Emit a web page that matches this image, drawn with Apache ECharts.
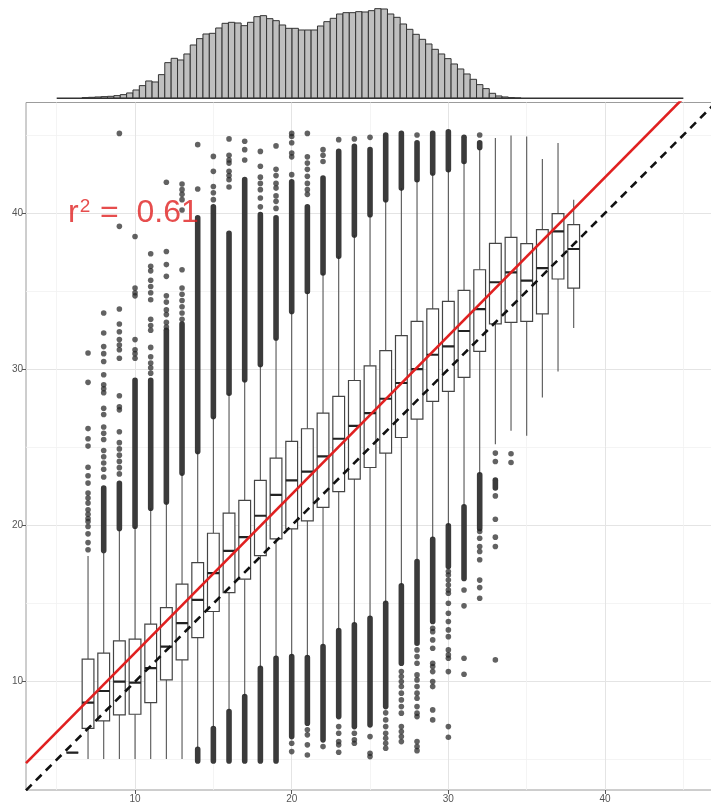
<!DOCTYPE html>
<html>
<head>
<meta charset="utf-8">
<script src="https://cdn.jsdelivr.net/npm/echarts@6/dist/echarts.min.js"></script>
<style>
  html, body { margin: 0; padding: 0; background: #fff; }
  #chart { width: 711px; height: 806px; }
</style>
</head>
<body>
<div id="chart"></div>
<script>
// ---- axis ticks ----
const xTicks = [10, 20, 30, 40];
const xMinorTicks = [5, 15, 25, 35, 45];
const yTicks = [10, 20, 30, 40];
const yMinorTicks = [5, 15, 25, 35, 45];
const xRange = [3.04, 47.02];
const yRange = [3.06, 47.08];

// ---- box summaries per observed value ----
const boxX      = [6, 7, 8, 9, 10, 11, 12, 13, 14, 15, 16, 17, 18, 19, 20, 21, 22, 23, 24, 25, 26, 27, 28, 29, 30, 31, 32, 33, 34, 35, 36, 37, 38];
const whiskerLo = [5.45, 5.05, 5.05, 5.05, 5.05, 5.05, 5.05, 5.05, 5.75, 7.1, 8.15, 9.1, 10.9, 11.55, 11.65, 11.6, 12.3, 13.3, 13.7, 14.1, 15.05, 16.2, 17.75, 19.2, 20.0, 21.25, 23.3, 25.2, 26.06, 25.74, 28.19, 29.86, 32.64];
const q1        = [5.45, 7.01, 7.48, 7.87, 7.91, 8.66, 10.11, 11.39, 12.82, 14.49, 15.70, 16.56, 18.07, 19.14, 19.78, 20.29, 21.15, 22.17, 22.97, 23.71, 24.63, 25.63, 26.81, 27.94, 28.58, 29.48, 31.14, 32.91, 33.0, 33.06, 33.54, 35.78, 35.2];
const median    = [5.45, 8.66, 9.40, 10.0, 9.94, 10.86, 12.24, 13.74, 15.23, 16.94, 18.37, 19.25, 20.62, 21.96, 22.88, 23.45, 24.42, 25.55, 26.38, 27.19, 28.11, 29.12, 30.01, 30.93, 31.46, 32.45, 33.85, 35.57, 36.2, 35.67, 36.48, 38.83, 37.7];
const q3        = [5.45, 11.44, 11.82, 12.61, 12.72, 13.68, 14.74, 16.24, 17.62, 19.5, 20.79, 21.6, 22.88, 24.31, 25.38, 26.19, 27.19, 28.26, 29.28, 30.22, 31.19, 32.15, 33.06, 33.86, 34.34, 35.05, 36.37, 38.06, 38.44, 38.04, 38.94, 39.96, 39.26];
const whiskerHi = [5.45, 18.05, 18.24, 19.72, 19.93, 21.1, 21.5, 23.35, 24.73, 26.98, 28.47, 29.33, 30.3, 32.0, 33.7, 34.98, 36.16, 37.23, 38.6, 39.9, 40.86, 41.6, 42.14, 42.57, 42.78, 43.3, 44.1, 44.8, 44.96, 44.9, 43.47, 44.49, 40.86];

// ---- outliers: continuous stacks of overlapping points [x, low, high] ----
const outlierStacks = [
  [8, 18.4, 22.4], [9, 19.8, 22.7], [10, 19.95, 29.3], [11, 21.1, 29.3], [12, 21.5, 32.5],
  [13, 23.35, 32.9], [14, 24.73, 39.7], [15, 26.98, 40.4], [16, 28.47, 38.7], [17, 29.33, 42.14],
  [18, 30.3, 39.9], [19, 32.0, 39.7], [20, 33.7, 42.0], [21, 34.98, 40.4], [22, 36.16, 42.25],
  [23, 37.23, 43.95], [24, 38.6, 44.27], [25, 39.9, 44.06], [26, 40.86, 45.0], [27, 41.6, 45.1],
  [28, 42.14, 44.5], [29, 42.57, 45.1], [30, 42.78, 45.2], [31, 43.3, 44.85], [32, 44.2, 44.5],
  [14, 4.92, 5.67], [15, 4.92, 7.0], [16, 4.92, 8.08], [17, 4.92, 9.04], [18, 4.92, 10.86],
  [19, 4.92, 11.5], [20, 6.48, 11.6], [21, 7.34, 11.54], [22, 6.27, 12.24], [23, 7.76, 13.27],
  [24, 7.12, 13.63], [25, 7.23, 14.06], [26, 8.4, 15.02], [27, 11.18, 16.13], [28, 12.46, 17.69],
  [29, 13.85, 19.12], [30, 17.37, 19.97], [31, 16.6, 21.2], [32, 19.8, 23.24], [33, 22.4, 22.9]
];

// ---- outliers: separate points [x, y] ----
const outlierPoints = [
  [7, 31.04], [7, 29.16], [7, 26.2], [7, 25.55], [7, 25.08], [7, 23.73], [7, 23.18], [7, 22.71], [7, 22.07], [7, 21.75],
  [7, 21.43], [7, 21.0], [7, 20.72], [7, 20.44], [7, 20.25], [7, 19.93], [7, 19.46], [7, 18.9], [7, 18.44],
  [8, 33.6], [8, 32.32], [8, 31.45], [8, 31.0], [8, 30.5], [8, 29.65], [8, 29.0], [8, 28.75], [8, 28.5], [8, 27.5],
  [8, 27.1], [8, 26.3], [8, 25.9], [8, 25.5], [8, 24.8], [8, 24.4], [8, 24.0], [8, 23.6], [8, 23.1],
  [9, 45.1], [9, 39.15], [9, 33.86], [9, 32.9], [9, 32.4], [9, 31.9], [9, 31.55], [9, 31.25], [9, 30.7], [9, 28.3],
  [9, 27.6], [9, 27.4], [9, 26.0], [9, 25.3], [9, 24.9], [9, 24.5], [9, 24.1], [9, 23.7], [9, 23.3],
  [10, 38.5], [10, 35.2], [10, 34.9], [10, 34.7], [10, 31.9], [10, 31.25], [10, 31.0], [10, 30.7],
  [11, 37.4], [11, 36.6], [11, 36.3], [11, 35.7], [11, 35.3], [11, 34.9], [11, 34.45], [11, 33.2], [11, 32.8], [11, 32.5],
  [11, 31.4], [11, 30.8], [11, 30.4], [11, 30.1], [11, 29.75],
  [12, 41.97], [12, 37.54], [12, 36.7], [12, 35.95], [12, 34.7], [12, 34.3], [12, 33.8], [12, 33.5], [12, 33.0], [12, 32.7],
  [13, 41.86], [13, 41.5], [13, 41.2], [13, 40.86], [13, 40.2], [13, 36.37], [13, 35.2], [13, 34.8], [13, 34.4], [13, 34.0],
  [13, 33.6], [13, 33.2],
  [14, 44.38], [14, 41.54],
  [15, 43.63], [15, 42.67], [15, 41.7], [15, 41.3], [15, 40.86],
  [16, 44.75], [16, 43.7], [16, 43.4], [16, 43.2], [16, 42.67], [16, 42.4], [16, 42.14], [16, 41.67],
  [17, 44.6], [17, 44.06], [17, 43.4],
  [18, 43.95], [18, 43.0], [18, 42.3], [18, 41.9], [18, 41.5], [18, 40.97], [18, 40.4],
  [19, 44.3], [19, 42.8], [19, 42.4], [19, 41.9], [19, 41.6], [19, 41.1], [19, 40.75], [19, 40.3],
  [20, 45.1], [20, 44.9], [20, 44.5], [20, 43.85], [20, 43.6], [20, 42.46],
  [21, 45.1], [21, 43.6], [21, 43.2], [21, 42.8], [21, 42.35], [21, 41.9], [21, 41.5], [21, 41.2],
  [22, 44.06], [22, 43.7], [22, 43.3],
  [23, 44.7], [24, 44.75], [25, 44.85], [28, 45.0], [32, 45.0],
  [20, 6.05], [20, 5.52],
  [21, 6.91], [21, 6.59], [21, 5.95], [21, 5.30],
  [22, 5.84],
  [23, 7.12], [23, 6.69], [23, 6.16], [23, 5.95], [23, 5.48],
  [24, 6.69], [24, 6.27], [24, 6.05],
  [25, 6.48], [25, 5.41], [25, 5.20],
  [26, 8.0], [26, 7.55], [26, 7.12], [26, 6.69], [26, 6.37], [26, 6.05], [26, 5.73],
  [27, 10.64], [27, 10.32], [27, 10.0], [27, 9.68], [27, 9.26], [27, 8.83], [27, 8.40], [27, 7.98], [27, 7.12], [27, 6.80],
  [27, 6.48], [27, 6.16],
  [28, 12.03], [28, 11.60], [28, 11.18], [28, 10.43], [28, 10.11], [28, 9.68], [28, 9.26], [28, 8.93], [28, 8.40], [28, 7.98],
  [28, 7.76], [28, 6.16], [28, 5.84], [28, 5.58],
  [29, 13.42], [29, 13.20], [29, 12.67], [29, 12.14], [29, 11.18], [29, 10.96], [29, 10.64], [29, 10.0], [29, 9.68], [29, 8.19],
  [29, 7.55],
  [30, 17.05], [30, 16.83], [30, 16.51], [30, 16.19], [30, 15.87], [30, 15.66], [30, 15.02], [30, 14.38], [30, 13.85], [30, 13.31],
  [30, 12.88], [30, 12.03], [30, 11.71], [30, 11.50], [30, 10.64], [30, 7.12], [30, 6.44],
  [31, 15.87], [31, 14.85], [31, 11.5], [31, 10.47],
  [32, 19.61], [32, 19.18], [32, 18.65], [32, 18.33], [32, 17.8], [32, 16.5], [32, 16.02], [32, 15.34],
  [33, 24.63], [33, 24.09], [33, 21.89], [33, 20.4], [33, 19.25], [33, 18.65], [33, 11.39],
  [34, 24.59], [34, 24.03]
];

// ---- fitted line and annotation ----
const fitIntercept = 1.69;
const fitSlope = 1.015;
const fitLabel = '0.61';
const labelAnchor = [5.72, 40];

// ---- marginal histogram ----
const histStart = 6.62;
const histBinWidth = 0.4061;
const histCounts = [2, 3, 4, 5, 6, 8, 11, 16, 25, 38, 52, 49, 71, 107, 120, 115, 133, 160, 179, 193, 195, 211, 225, 228,
  226, 218, 228, 245, 248, 239, 233, 220, 210, 210, 205, 205, 205, 217, 230, 240, 253, 257, 257, 260, 259, 263, 269, 268,
  253, 243, 223, 207, 192, 177, 163, 147, 133, 119, 103, 88, 73, 57, 41, 29, 15, 7, 4, 2, 1];
const histSpan = [5, 45];

const boxWidth = 0.75;
const dotSize = 5.6;
const dotColor = 'rgba(38,38,38,0.9)';
const font = '"Liberation Sans", Arial, Helvetica, sans-serif';

const chart = echarts.init(document.getElementById('chart'), null, { renderer: 'canvas' });

function renderBox(params, api) {
  const x = api.value(0);
  const half = api.size([boxWidth, 0])[0] / 2;
  const lo = api.coord([x, api.value(1)]);
  const b1 = api.coord([x, api.value(2)]);
  const md = api.coord([x, api.value(3)]);
  const b3 = api.coord([x, api.value(4)]);
  const hi = api.coord([x, api.value(5)]);
  const cx = lo[0];
  return {
    type: 'group',
    children: [
      { type: 'line', shape: { x1: cx, y1: hi[1], x2: cx, y2: b3[1] }, style: { stroke: '#555', lineWidth: 1.1 } },
      { type: 'line', shape: { x1: cx, y1: b1[1], x2: cx, y2: lo[1] }, style: { stroke: '#555', lineWidth: 1.1 } },
      { type: 'rect', shape: { x: cx - half, y: b3[1], width: half * 2, height: b1[1] - b3[1] },
        style: { fill: '#fff', stroke: '#444', lineWidth: 1.2 } },
      { type: 'line', shape: { x1: cx - half, y1: md[1], x2: cx + half, y2: md[1] }, style: { stroke: '#222', lineWidth: 2.2 } }
    ]
  };
}

function renderStack(params, api) {
  const a = api.coord([api.value(0), api.value(1)]);
  const b = api.coord([api.value(0), api.value(2)]);
  const r = dotSize / 2;
  return {
    type: 'rect',
    shape: { x: a[0] - r, y: b[1] - r, width: r * 2, height: a[1] - b[1] + r * 2, r: r },
    style: { fill: dotColor }
  };
}

function renderHist(params, api) {
  const x0 = api.value(0);
  const tl = api.coord([x0, api.value(1)]);
  const br = api.coord([x0 + histBinWidth, 0]);
  return {
    type: 'rect',
    shape: { x: tl[0], y: tl[1], width: br[0] - tl[0], height: br[1] - tl[1] },
    style: { fill: '#bfbfbf', stroke: '#333', lineWidth: 1 }
  };
}

const boxData = boxX.map((x, i) => [x, whiskerLo[i], q1[i], median[i], q3[i], whiskerHi[i]]);
const histData = histCounts.map((c, i) => [histStart + i * histBinWidth, c]);
const fitLine = xRange.map(x => [x, fitIntercept + fitSlope * x]);
const identityLine = xRange.map(x => [x, x]);

const tickLabel = { color: '#555', fontSize: 10, fontFamily: font };

chart.setOption({
  animation: false,
  backgroundColor: '#fff',
  grid: [
    { left: 26, right: -4, top: 102.5, bottom: 16, show: true, borderColor: '#9c9c9c', borderWidth: 1,
      backgroundColor: 'transparent', outerBoundsMode: 'none' },
    { left: 26, right: -4, top: 0, height: 98.3, outerBoundsMode: 'none' }
  ],
  xAxis: [
    { type: 'value', gridIndex: 0, min: xRange[0], max: xRange[1], position: 'bottom',
      axisLine: { show: false },
      axisTick: { show: true, length: 4, lineStyle: { color: '#555' }, customValues: xTicks },
      axisLabel: Object.assign({ customValues: xTicks, margin: 4 }, tickLabel),
      splitLine: { show: true, lineStyle: { color: '#e4e4e4', width: 1 } } },
    { type: 'value', gridIndex: 0, min: xRange[0], max: xRange[1], position: 'bottom',
      axisLine: { show: false },
      axisTick: { show: false, customValues: xMinorTicks },
      axisLabel: { show: false, customValues: xMinorTicks },
      splitLine: { show: true, lineStyle: { color: '#f1f1f1', width: 0.8 } } },
    { type: 'value', gridIndex: 1, min: xRange[0], max: xRange[1], show: false }
  ],
  yAxis: [
    { type: 'value', gridIndex: 0, min: yRange[0], max: yRange[1], position: 'left',
      axisLine: { show: false },
      axisTick: { show: true, length: 4, lineStyle: { color: '#555' }, customValues: yTicks },
      axisLabel: Object.assign({ customValues: yTicks, margin: 3 }, tickLabel),
      splitLine: { show: true, lineStyle: { color: '#e4e4e4', width: 1 } } },
    { type: 'value', gridIndex: 0, min: yRange[0], max: yRange[1], position: 'left',
      axisLine: { show: false },
      axisTick: { show: false, customValues: yMinorTicks },
      axisLabel: { show: false, customValues: yMinorTicks },
      splitLine: { show: true, lineStyle: { color: '#f1f1f1', width: 0.8 } } },
    { type: 'value', gridIndex: 1, min: 0, max: 295, show: false }
  ],
  series: [
    { type: 'custom', name: 'histogram', xAxisIndex: 2, yAxisIndex: 2, renderItem: renderHist,
      data: histData, encode: { x: 0, y: 1 }, silent: true },
    { type: 'line', name: 'histogram baseline', xAxisIndex: 2, yAxisIndex: 2, symbol: 'none',
      data: histSpan.map(x => [x, 0]), lineStyle: { color: '#333', width: 1.6 }, silent: true },
    { type: 'custom', name: 'boxes', xAxisIndex: 0, yAxisIndex: 0, renderItem: renderBox,
      data: boxData, encode: { x: 0, y: [1, 2, 3, 4, 5] }, clip: true, silent: true, z: 2 },
    { type: 'custom', name: 'outlier stacks', xAxisIndex: 0, yAxisIndex: 0, renderItem: renderStack,
      data: outlierStacks, encode: { x: 0, y: [1, 2] }, clip: true, silent: true, z: 3 },
    { type: 'scatter', name: 'outliers', xAxisIndex: 0, yAxisIndex: 0, data: outlierPoints,
      symbolSize: dotSize, itemStyle: { color: dotColor }, silent: true, z: 3 },
    { type: 'line', name: 'fit', xAxisIndex: 0, yAxisIndex: 0, data: fitLine, symbol: 'none',
      lineStyle: { color: '#e02020', width: 2.6 }, silent: true, z: 5 },
    { type: 'line', name: 'identity', xAxisIndex: 0, yAxisIndex: 0, data: identityLine, symbol: 'none',
      lineStyle: { color: '#111', width: 2.6, type: [8, 6] }, silent: true, z: 5 },
    { type: 'scatter', name: 'r2', xAxisIndex: 0, yAxisIndex: 0, data: [labelAnchor], symbolSize: 0,
      silent: true, z: 6,
      label: {
        show: true, position: 'right', distance: 0,
        formatter: '{m|r}{s|2}{m| =  ' + fitLabel + '}',
        rich: {
          m: { fontSize: 32, color: '#e02020', fontFamily: font },
          s: { fontSize: 19, color: '#e02020', fontFamily: font, padding: [0, 1, 13, 1] }
        }
      } }
  ]
});
</script>
</body>
</html>
